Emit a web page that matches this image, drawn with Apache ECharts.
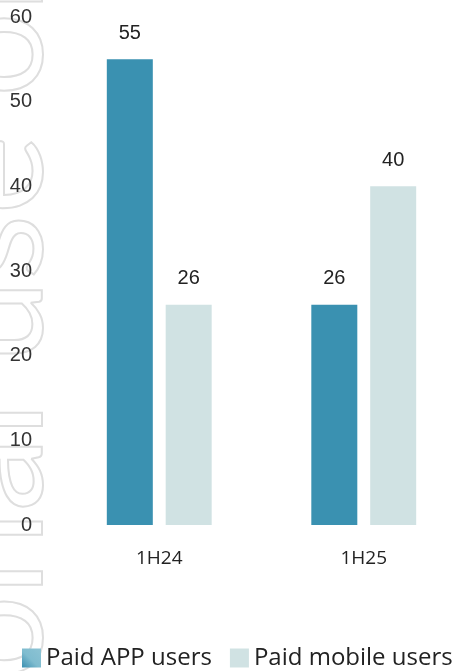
<!DOCTYPE html>
<html>
<head>
<meta charset="utf-8">
<script src="https://cdn.jsdelivr.net/npm/echarts@6/dist/echarts.min.js"></script>
<style>
  html, body { margin: 0; padding: 0; background: #fff; }
  #main { width: 466px; height: 671px; }
</style>
</head>
<body>
<div id="main"></div>
<script>
// chart data
const periods = ['1H24', '1H25']
const appUsers = [55, 26]
const mobileUsers = [26, 40]
const seriesNames = ['Paid APP users', 'Paid mobile users']

const numFont = '"Liberation Sans", Arial, sans-serif'
const textFont = '"Open Sans", "Noto Sans", sans-serif'

let myChart = echarts.init(document.getElementById('main'))

let option = {
  animation: false,
  backgroundColor: '#fff',
  graphic: [{
    // faint outlined watermark running up the left edge
    type: 'text',
    x: -6,
    y: 1219,
    rotation: Math.PI / 2,
    z: -10,
    silent: true,
    style: {
      text: 'For personal use only',
      font: '150px Lato, sans-serif',
      textAlign: 'left',
      verticalAlign: 'middle',
      fill: 'transparent',
      stroke: '#dedede',
      lineWidth: 2
    }
  }],
  grid: {
    left: 57,
    right: -3,
    top: 17,
    bottom: 146,
    containLabel: false
  },
  legend: {
    bottom: -4,
    left: 17,
    itemWidth: 19,
    itemHeight: 19,
    itemGap: 18,
    icon: 'rect',
    textStyle: { fontFamily: textFont, fontSize: 24, color: '#222' },
    data: [{
      name: seriesNames[0],
      itemStyle: {
        color: new echarts.graphic.LinearGradient(0, 1, 1, 0, [
          { offset: 0, color: '#3a8fb0' },
          { offset: 0.45, color: '#7fbccf' },
          { offset: 1, color: '#8cc3d4' }
        ])
      }
    }, {
      name: seriesNames[1]
    }]
  },
  xAxis: {
    type: 'category',
    data: periods,
    axisLine: { show: false },
    axisTick: { show: false },
    axisLabel: { margin: 24, fontFamily: textFont, fontSize: 19, color: '#222' }
  },
  yAxis: {
    type: 'value',
    min: 0,
    max: 60,
    interval: 10,
    splitLine: { show: false },
    axisLine: { show: false },
    axisTick: { show: false },
    axisLabel: { margin: 25, fontFamily: numFont, fontSize: 20, color: '#333' }
  },
  series: [{
    name: seriesNames[0],
    type: 'bar',
    data: appUsers,
    barWidth: 46,
    barGap: '28%',
    itemStyle: { color: '#3a91b1' },
    label: {
      show: true,
      position: 'top',
      distance: 16,
      fontFamily: numFont,
      fontSize: 20,
      color: '#222'
    }
  }, {
    name: seriesNames[1],
    type: 'bar',
    data: mobileUsers,
    barWidth: 46,
    itemStyle: { color: '#d0e2e3' },
    label: {
      show: true,
      position: 'top',
      distance: 16,
      fontFamily: numFont,
      fontSize: 20,
      color: '#222'
    }
  }]
}

myChart.setOption(option)
</script>
</body>
</html>
